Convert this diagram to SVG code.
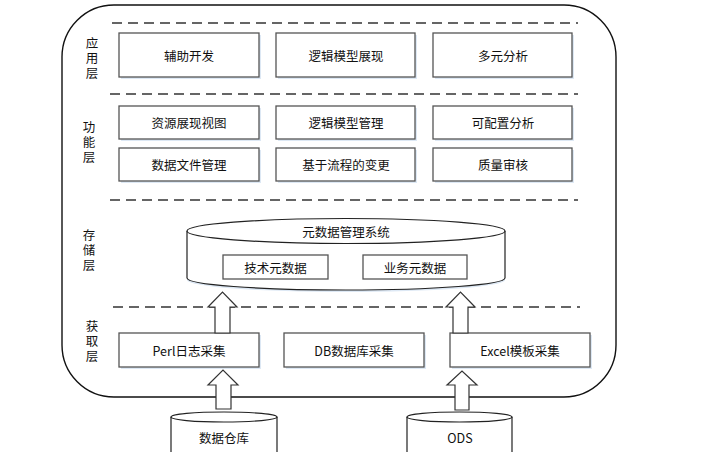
<svg xmlns="http://www.w3.org/2000/svg" width="724" height="452" viewBox="0 0 724 452">
<style>
text{font-family:"Noto Sans CJK SC","Liberation Sans",sans-serif;font-size:12.5px;fill:#111;text-anchor:middle;dominant-baseline:central}
.vl{writing-mode:vertical-rl;letter-spacing:2.5px;font-size:12.5px}
.box{fill:#fff;stroke:#555;stroke-width:1.3}
.sh{fill:#dde8f4;stroke:none}
.dash{stroke:#333;stroke-width:1.3;stroke-dasharray:10 6;fill:none}
.arr{fill:#fff;stroke:#333;stroke-width:1.2}
.cyl{fill:#fff;stroke:#222;stroke-width:1.2}
</style>
<rect id="frame" x="62" y="5" width="554" height="392" rx="52" ry="52" fill="#fff" stroke="#111" stroke-width="1.4"/>
<g id="dividers">
<line class="dash" x1="112" y1="23" x2="578" y2="23"/>
<line class="dash" x1="110" y1="94" x2="578" y2="94"/>
<line class="dash" x1="110" y1="200" x2="578" y2="200"/>
<line class="dash" x1="113" y1="307" x2="580" y2="307"/>
</g>
<g id="layer-labels">
<text class="vl" x="92" y="59">应用层</text>
<text class="vl" x="89" y="143">功能层</text>
<text class="vl" x="89" y="251">存储层</text>
<text class="vl" x="92" y="342">获取层</text>
</g>
<g id="n-fzkf"><rect class="sh" x="121" y="35" width="140" height="44"/><rect class="box" x="119" y="33" width="140" height="44"/><text x="189" y="55">辅助开发</text></g>
<g id="n-ljmxzx"><rect class="sh" x="278" y="35" width="139" height="44"/><rect class="box" x="276" y="33" width="139" height="44"/><text x="346" y="55">逻辑模型展现</text></g>
<g id="n-dyfx"><rect class="sh" x="435" y="35" width="139" height="44"/><rect class="box" x="433" y="33" width="139" height="44"/><text x="503" y="55">多元分析</text></g>
<g id="n-zyzxst"><rect class="sh" x="121" y="108" width="140" height="33"/><rect class="box" x="119" y="106" width="140" height="33"/><text x="189" y="122.5">资源展现视图</text></g>
<g id="n-ljmxgl"><rect class="sh" x="278" y="108" width="139" height="33"/><rect class="box" x="276" y="106" width="139" height="33"/><text x="346" y="122.5">逻辑模型管理</text></g>
<g id="n-kpzfx"><rect class="sh" x="435" y="108" width="139" height="33"/><rect class="box" x="433" y="106" width="139" height="33"/><text x="503" y="122.5">可配置分析</text></g>
<g id="n-sjwjgl"><rect class="sh" x="121" y="150" width="140" height="33"/><rect class="box" x="119" y="148" width="140" height="33"/><text x="189" y="164.5">数据文件管理</text></g>
<g id="n-jylcbg"><rect class="sh" x="278" y="150" width="139" height="33"/><rect class="box" x="276" y="148" width="139" height="33"/><text x="346" y="164.5">基于流程的变更</text></g>
<g id="n-zlsh"><rect class="sh" x="435" y="150" width="139" height="33"/><rect class="box" x="433" y="148" width="139" height="33"/><text x="503" y="164.5">质量审核</text></g>
<g id="n-metadata">
<path d="M187 233 L187 280 A159 12 0 0 0 505 280 L505 233" fill="#dde8f4" stroke="none"/>
<path class="cyl" d="M187 231 L187 278 A159 12 0 0 0 505 278 L505 231"/>
<ellipse class="cyl" cx="346" cy="231" rx="159" ry="12.5"/>
<text x="346" y="231">元数据管理系统</text>
</g>
<g id="n-jsysj"><rect class="box" x="223" y="255" width="105" height="24"/><text x="275.5" y="267">技术元数据</text></g>
<g id="n-ywysj"><rect class="box" x="363" y="255" width="104" height="24"/><text x="415" y="267">业务元数据</text></g>
<g id="n-perl"><rect class="sh" x="121" y="335" width="140" height="34"/><rect class="box" x="119" y="333" width="140" height="34"/><text x="189" y="350">Perl日志采集</text></g>
<g id="n-db"><rect class="sh" x="286" y="335" width="140" height="34"/><rect class="box" x="284" y="333" width="140" height="34"/><text x="354" y="350">DB数据库采集</text></g>
<g id="n-excel"><rect class="sh" x="452" y="335" width="140" height="34"/><rect class="box" x="450" y="333" width="140" height="34"/><text x="520" y="350">Excel模板采集</text></g>
<g id="n-dw">
<path class="cyl" d="M171 417 L171 460 L277 460 L277 417"/>
<ellipse class="cyl" cx="224" cy="417" rx="53" ry="5"/>
<text x="224" y="437">数据仓库</text>
</g>
<g id="n-ods">
<path class="cyl" d="M407 417 L407 460 L512 460 L512 417"/>
<ellipse class="cyl" cx="459.5" cy="417" rx="52.5" ry="5"/>
<text x="460" y="437">ODS</text>
</g>
<g id="connectors">
<path class="arr" d="M215 333 L215 307 L208 307 L222.5 292 L237 307 L230 307 L230 333 Z"/>
<path class="arr" d="M453 333 L453 307 L446 307 L460.5 292 L475 307 L468 307 L468 333 Z"/>
<path class="arr" d="M216 409 L216 385 L208 385 L223 370 L238 385 L231 385 L231 409 Z"/>
<path class="arr" d="M455 410 L455 385 L447 385 L462 371 L477 385 L469 385 L469 410 Z"/>
</g>
</svg>
